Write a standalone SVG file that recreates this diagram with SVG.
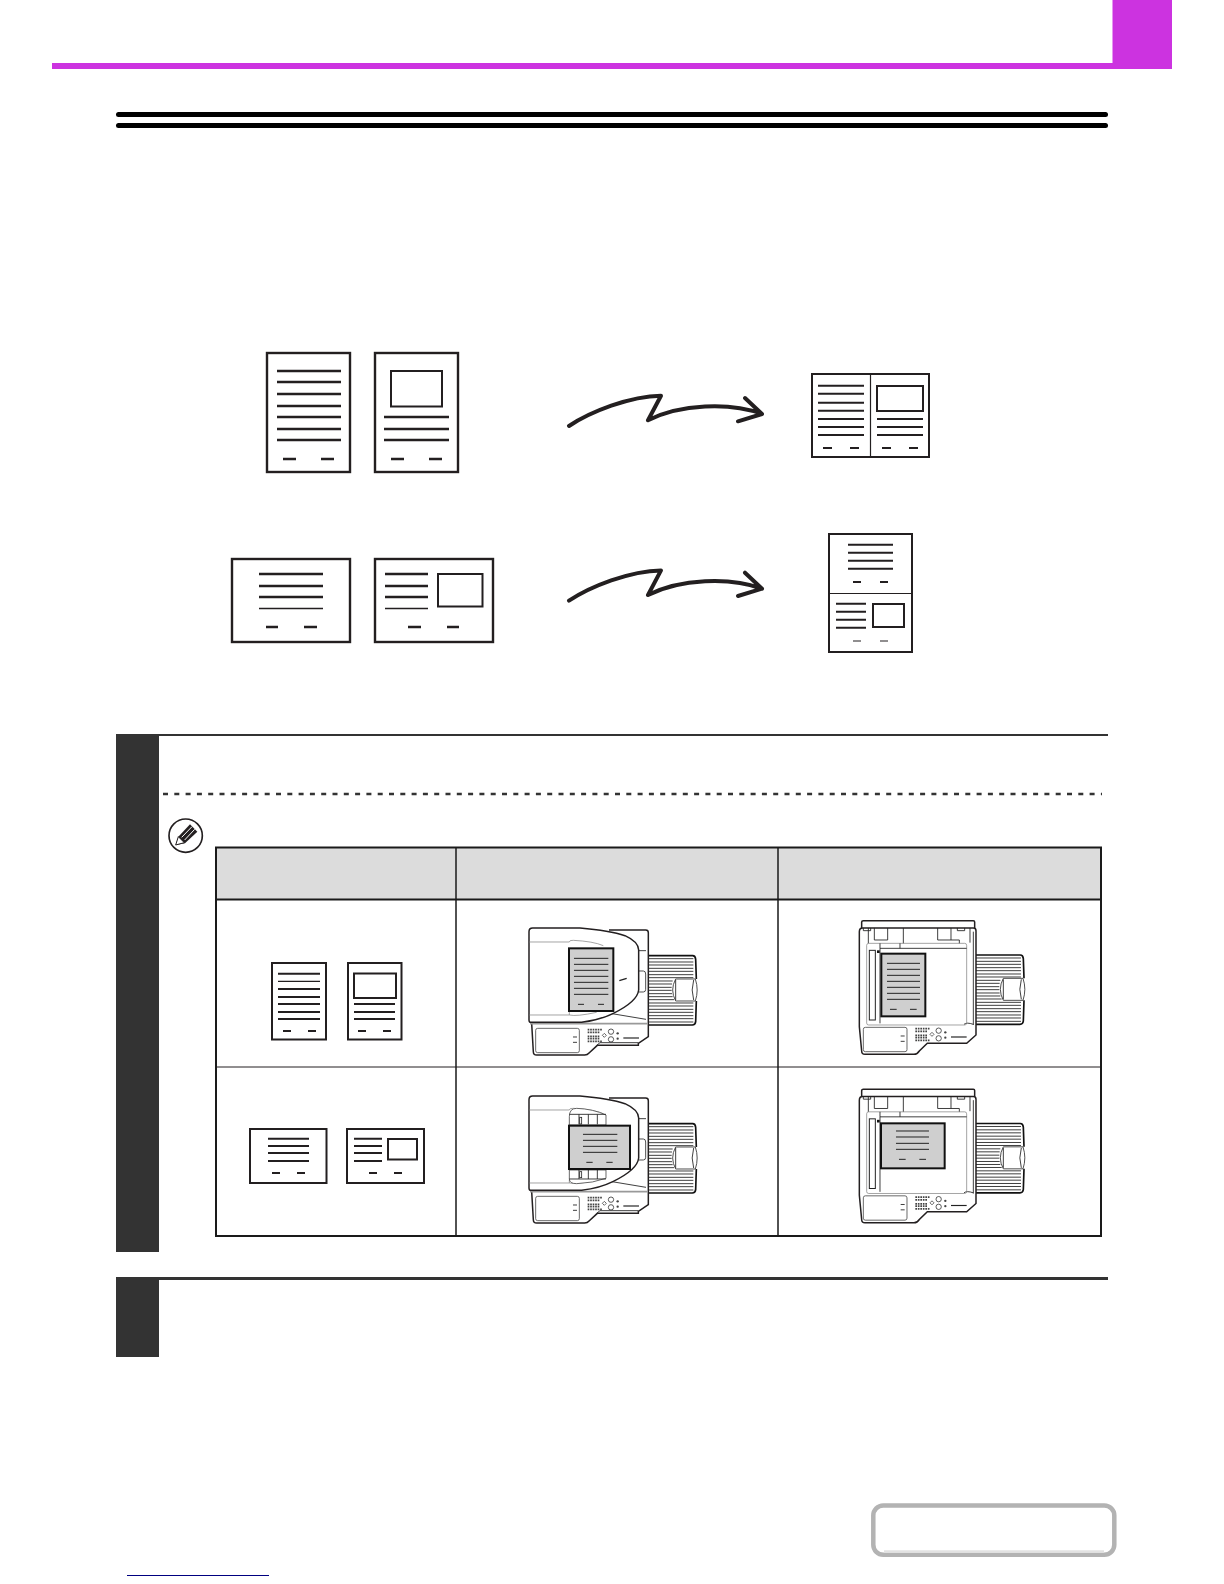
<svg xmlns="http://www.w3.org/2000/svg" xmlns:xlink="http://www.w3.org/1999/xlink" width="1224" height="1584" viewBox="0 0 1224 1584">
<style>
.k{fill:none;stroke:#231f20;stroke-width:2.4}
.d{fill:none;stroke:#231f20;stroke-width:2}
.p{fill:#fff;stroke:#231f20;stroke-width:2.4}
.s{fill:#fff;stroke:#231f20;stroke-width:2}
.a{fill:none;stroke:#231f20;stroke-width:4;stroke-linecap:round;stroke-linejoin:round}
.m{fill:none;stroke:#231f20;stroke-width:4.500}
.t{fill:none;stroke:#222;stroke-width:2.600}
.g{fill:none;stroke:#777;stroke-width:2}
.b{fill:none;stroke:#111;stroke-width:5}
.l{fill:none;stroke:#222;stroke-width:3}
.n{fill:#231f20;stroke:none}
</style>
<defs>
<g id="tray">
<path class="t" d="M415 176H550M415 186H550M415 195H550M415 205H550M415 214H550M415 224H550M415 233H550M415 243H488M415 252H486M415 262H485M415 271H485M415 281H486M415 290H488M415 299H492M415 309H550M415 318H550M415 328H550M415 337H550M415 347H550M415 356H550M415 366H550"/>
<path class="b" d="M415 167H548Q556 167 557 178L559 237M559 303L557 365Q556 375 547 375H415"/>
<path d="M497 237H556Q567 270 556 303H497Q479 270 497 237Z" fill="#fff" stroke="#333" stroke-width="2.600"/>
<path class="t" d="M551 240Q542 270 551 300M497 240V300"/>
</g>
<g id="panel">
<rect x="77" y="385" width="131" height="73" rx="6" fill="#fff" stroke="#444" stroke-width="2.400"/>
<path d="M189 411H201M189 427H201" stroke="#222" stroke-width="2.600"/>
<path d="M233 389H276M233 397H270M233 409H268M233 416H268M233 424H276" stroke="#444" stroke-width="5" stroke-dasharray="5 2.500" fill="none"/>
<circle cx="303" cy="395" r="8" fill="none" stroke="#333" stroke-width="2.400"/>
<circle cx="303" cy="418" r="8" fill="none" stroke="#333" stroke-width="2.400"/>
<circle cx="323" cy="400" r="3.500" fill="#444"/>
<circle cx="323" cy="416" r="3.500" fill="#444"/>
<path d="M283 400L289 406L283 412L277 406Z" fill="none" stroke="#444" stroke-width="2.400"/>
<path d="M340 414H387" stroke="#222" stroke-width="3.500"/>
</g>
<g id="adf">
<use xlink:href="#tray"/>
<path class="m" d="M297 90H407Q415 90 415 98V410L385 430V436H262L238 458Q232 465 224 465H80Q70 465 70 455L65 370"/>
<path d="M386 213H400Q407 213 407 222V268Q407 276 400 276H386" fill="#fff" stroke="#333" stroke-width="2.600"/>
<path d="M386 152H408M300 340L408 358" class="t"/>
<path d="M260 436L270 428H385" class="t"/>
<path d="M60 371H413" stroke="#999" stroke-width="5"/>
<path class="m" d="M57 95Q57 84 68 84H210Q300 92 345 107Q385 125 386 150V270Q382 305 310 340Q270 360 215 367H62Q57 367 57 360Z" style="fill:#fff"/>
<path class="g" d="M57 126H178Q178 120 190 121Q250 124 280 137M57 345H178Q200 350 260 337M178 345V335"/>
<path d="M328 242L350 235" stroke="#222" stroke-width="4"/>
<use xlink:href="#panel"/>
</g>
<g id="glass">
<use xlink:href="#tray" transform="translate(-7 -2)"/>
<path class="m" d="M65 84V66Q65 62 70 62H400Q404 62 404 66V84" style="fill:#fff"/>
<path class="m" d="M58 95Q58 84 68 84H400Q408 84 408 92V405L380 430H262L238 453Q232 463 222 463H75Q65 463 65 453L58 380Z" style="fill:#fff"/>
<path class="t" d="M70 84V92H92V84M352 84V92H374V84M103 84V120H143V84M293 84V120H333V84M85 84V130M190 84V130M390 84V128M333 120H358V130M400 95V375M372 373Q380 366 400 373"/>
<rect x="80" y="130" width="300" height="245" rx="6" fill="none" stroke="#777" stroke-width="2"/>
<path class="t" d="M120 145H380M120 130V145M180 130V145M120 145V370"/>
<rect x="88" y="151" width="18" height="209" fill="#fff" stroke="#222" stroke-width="3"/>
<use xlink:href="#panel" transform="translate(-7 -3)"/>
</g>
<g id="guides">
<path d="M178 125Q178 100 200 100Q250 102 288 120V150H178Z" fill="#fff" stroke="#444" stroke-width="2.400"/>
<path d="M178 118H288M207 118V148M235 118V148M262 118V148" class="t"/>
<rect x="209" y="127" width="6" height="20" fill="#fff" stroke="#222" stroke-width="2.400"/>
<path d="M178 312Q178 326 200 326Q250 324 288 310V285H178Z" fill="#fff" stroke="#444" stroke-width="2.400"/>
<path d="M178 312H288M207 285V312M235 285V312M262 285V312" class="t"/>
<rect x="209" y="290" width="6" height="18" fill="#fff" stroke="#222" stroke-width="2.400"/>
</g>
</defs>

<g id="header">
<path d="M52 63H1112.500V0H1172V69H52Z" fill="#cc33e0"/>
</g>
<g id="title-rule" fill="#000">
<rect x="116" y="112" width="992" height="5" rx="2.500"/>
<rect x="116" y="123" width="992" height="5" rx="2.500"/>
</g>

<g id="doc-portrait-text">
<rect class="p" x="267" y="353" width="83" height="119"/>
<path class="k" d="M277 371H341M277 382H341M277 394H341M277 406H341M277 417H341M277 429H341M277 440H341M283 459H296M321 459H334"/>
</g>
<g id="doc-portrait-image">
<rect class="p" x="375" y="353" width="83" height="119"/>
<rect class="s" x="391" y="371" width="51" height="35.500"/>
<path class="k" d="M384 417H449M384 429H449M384 440H449M391 459H404M429 459H442"/>
</g>
<g id="doc-landscape-text">
<rect class="p" x="232" y="559" width="118" height="83"/>
<path class="k" d="M259 574H323M259 586H323M259 597H323M266 627H278M304 627H317"/>
<path d="M259 608.500H323" stroke="#231f20" stroke-width="1.400"/>
</g>
<g id="doc-landscape-image">
<rect class="p" x="375" y="559" width="118" height="83"/>
<rect class="s" x="438" y="574" width="44.500" height="32.500"/>
<path class="k" d="M385 574H428M385 586H428M385 597H428M408 627H421M447 627H459"/>
<path d="M385 608.500H428" stroke="#231f20" stroke-width="1.400"/>
</g>
<g id="result-portrait">
<rect class="s" x="812" y="374" width="117" height="83"/>
<path d="M870.500 374V457" stroke="#231f20" stroke-width="1.200"/>
<path class="d" d="M818 385.700H864M818 393.700H864M818 402.700H864M818 410.700H864M818 419H864M818 427H864M818 435H864M823 448H832M850 448H859M877 419H923M877 427H923M877 435H923M882 448H891M909 448H918"/>
<rect class="s" x="877" y="386" width="46" height="25"/>
</g>
<g id="result-landscape">
<rect class="s" x="829" y="534" width="83" height="118"/>
<path d="M829 593.500H912" stroke="#231f20" stroke-width="1.200"/>
<path class="d" d="M848 544.700H893M848 552.700H893M848 560.700H893M848 568.700H893M853 582H861M880 582H888M836 603.700H866M836 611.700H866M836 619.700H866M836 627.700H866"/>
<path d="M853 641H861M880 641H888" stroke="#231f20" stroke-width="1.200"/>
<rect class="s" x="873" y="604" width="31" height="23"/>
</g>

<g id="connectors">
<path id="arrow-1" class="a" d="M569 426C590 412 630 396 661 395.700L648 420.300C680 404 730 402 762 414M745 398L762 414L738 421.300"/>
<path id="arrow-2" class="a" transform="translate(0 174.700)" d="M569 426C590 412 630 396 661 395.700L648 420.300C680 404 730 402 762 414M745 398L762 414L738 421.300"/>
</g>

<g id="step-1">
<rect x="116" y="734" width="43" height="518" fill="#333"/>
<rect x="159" y="734" width="949" height="2" fill="#333"/>
<path d="M163 794H1102" stroke="#333" stroke-width="2.400" stroke-dasharray="5 6.300" fill="none"/>
</g>
<g id="note-icon" transform="translate(110 725) scale(.33333)">
<circle cx="227" cy="332" r="50" fill="#fff" stroke="#231f20" stroke-width="5"/>
<path d="M197 360L205 335L240 298L262 320L225 355Z" fill="#231f20"/>
<path d="M197 360L205 335L223 353Z" fill="#fff" stroke="#231f20" stroke-width="3"/>
<path d="M215 337L246 305M224 345L254 313" stroke="#fff" stroke-width="3"/>
</g>
<g id="table">
<rect x="216" y="848" width="885" height="52" fill="#dcdcdc"/>
<path d="M216 899.500H1101" stroke="#1a1a1a" stroke-width="2"/>
<path d="M216 1067H1101" stroke="#231f20" stroke-width="1"/>
<path d="M456 848V1236M778 848V1236" stroke="#1a1a1a" stroke-width="1.500"/>
<rect x="216" y="847.500" width="885" height="388.500" fill="none" stroke="#1a1a1a" stroke-width="2"/>
</g>
<g id="cell-doc-1">
<rect class="s" x="272" y="963" width="54" height="76.500"/>
<path class="d" d="M278 973.700H320M278 989H320M278 997H320M278 1004H320M278 1012H320M278 1019H320M283 1031H291M308 1031H316"/>
<path d="M278 981.300H320" stroke="#231f20" stroke-width="1.200"/>
</g>
<g id="cell-doc-2">
<rect class="s" x="348" y="963" width="53.500" height="76.500"/>
<rect class="s" x="354" y="973.500" width="42" height="24.500"/>
<path class="d" d="M354 1004H395M354 1012H395M354 1019H395M358 1031H366M383 1031H391"/>
</g>
<g id="cell-doc-3">
<rect class="s" x="250" y="1129" width="76.500" height="54"/>
<path class="d" d="M268 1138.700H309M268 1146H309M268 1153H309M268 1161H309M272 1173H280M297 1173H305"/>
</g>
<g id="cell-doc-4">
<rect class="s" x="347" y="1129" width="77" height="54"/>
<rect class="s" x="388" y="1139" width="29" height="20.500"/>
<path class="d" d="M354 1138.700H382M354 1146H382M354 1153H382M354 1161H382M369 1173H377M394 1173H402"/>
</g>

<g id="machine-adf-portrait" transform="translate(510 900) scale(.33333)">
<use xlink:href="#adf"/>
<rect x="177" y="145" width="133" height="188" fill="#cfcfcf" stroke="#111" stroke-width="6"/>
<path class="l" d="M192 175H295M192 193H295M192 211H295M192 229H295M192 247H295M192 265H295M192 283H295M204 313H222M264 313H282"/>
</g>
<g id="machine-glass-portrait" transform="translate(840 900) scale(.33333)">
<use xlink:href="#glass"/>
<rect x="111" y="151" width="8" height="8" fill="#111"/>
<rect x="124" y="161" width="132" height="188" fill="#cfcfcf" stroke="#111" stroke-width="6"/>
<path class="l" d="M141 190H240M141 208H240M141 226H240M141 244H240M141 262H240M141 280H240M141 298H240M150 328H170M210 328H230"/>
</g>
<g id="machine-adf-landscape" transform="translate(510 1068) scale(.33333)">
<use xlink:href="#adf"/>
<use xlink:href="#guides" transform="translate(0 21)"/>
<rect x="177" y="173" width="183" height="130" fill="#cfcfcf" stroke="#111" stroke-width="6"/>
<path class="l" d="M219 199H322M219 217H322M219 235H322M219 253H322M229 283H248M289 283H308"/>
</g>
<g id="machine-glass-landscape" transform="translate(840 1068.500) scale(.33333)">
<use xlink:href="#glass"/>
<rect x="111" y="154" width="8" height="8" fill="#111"/>
<rect x="123" y="164.500" width="191" height="135" fill="#cfcfcf" stroke="#111" stroke-width="6"/>
<path class="l" d="M168 187.500H267M168 205.500H267M168 224.500H267M168 242.500H267M177 272.500H197M238 272.500H258"/>
</g>

<g id="step-2">
<rect x="116" y="1277" width="43" height="80" fill="#333"/>
<rect x="159" y="1277" width="949" height="3" fill="#333"/>
</g>
<g id="nav-button">
<rect x="873.300" y="1505.500" width="241" height="49.300" rx="10" fill="#fff" stroke="#b3b3b3" stroke-width="4.500"/>
<path d="M884 1551.500H1104" stroke="#e2e2e2" stroke-width="2.500"/>
</g>
<path id="link-underline" d="M127 1575.500H269" stroke="#000080" stroke-width="1"/>
</svg>
